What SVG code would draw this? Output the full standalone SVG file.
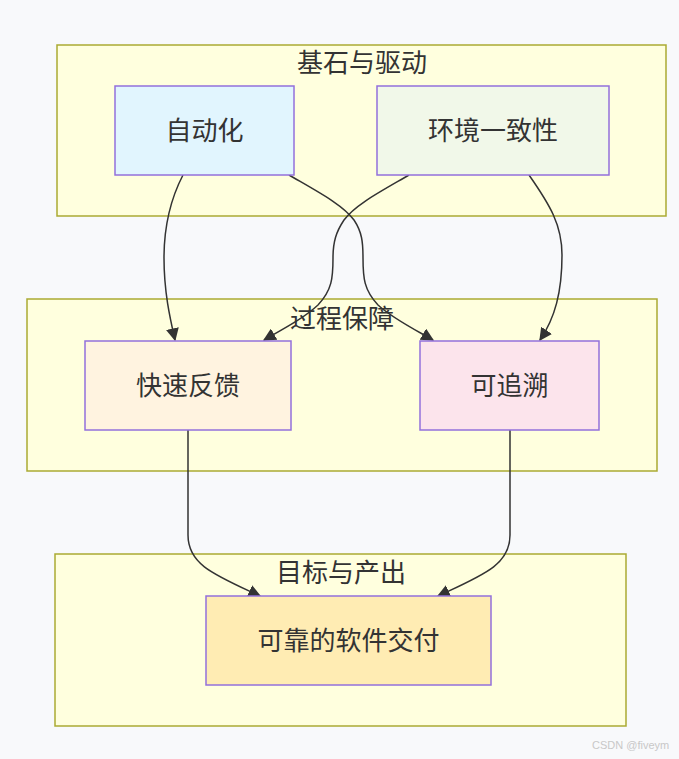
<svg xmlns="http://www.w3.org/2000/svg" width="679" height="759" viewBox="0 0 679 759">
<defs>
<style>
.bg{fill:#f8f9fb}
.cluster rect{fill:#ffffde;stroke:#aaaa33;stroke-width:1.5}
.node rect{stroke:#9370db;stroke-width:1.5}
text{font-family:"Noto Sans CJK SC","Noto Sans",sans-serif;fill:#333;font-size:26px;text-anchor:middle}
.edge{fill:none;stroke:#333;stroke-width:1.5}
.wm{font-family:"Liberation Sans",sans-serif;font-size:11px;fill:#c8c8c8;text-anchor:start}
</style>
<marker id="arr" viewBox="0 0 10 10" refX="9" refY="5" markerWidth="13" markerHeight="13" markerUnits="userSpaceOnUse" orient="auto">
<path d="M0,0 L10,5 L0,10 z" fill="#333"/>
</marker>
</defs>
<rect class="bg" x="0" y="0" width="679" height="759"/>
<g id="cluster-foundation" class="cluster">
<rect x="57" y="45" width="609" height="171"/>
<text x="362" y="72">基石与驱动</text>
</g>
<g id="cluster-process" class="cluster">
<rect x="27" y="299" width="630" height="172"/>
<text x="342" y="328">过程保障</text>
</g>
<g id="cluster-goal" class="cluster">
<rect x="55" y="554" width="571" height="172"/>
<text x="341" y="582">目标与产出</text>
</g>
<g id="edges">
<path class="edge" marker-end="url(#arr)" d="M183,175 C170,200 164,225 164,258 C164,292 170,318 175,340"/>
<path class="edge" marker-end="url(#arr)" d="M289,175 C320,193 343,205 354,220 C362,232 363,242 363,258 C363,278 364,290 378,305 C392,318 412,328 433,340"/>
<path class="edge" marker-end="url(#arr)" d="M409,175 C378,193 355,205 344,220 C336,232 333,242 333,258 C333,278 332,290 318,305 C304,318 285,328 264,340"/>
<path class="edge" marker-end="url(#arr)" d="M529,175 C550,205 562,225 562,255 C562,292 555,318 540,340"/>
<path class="edge" marker-end="url(#arr)" d="M188,430 L188,535 C188,565 215,575 260,596"/>
<path class="edge" marker-end="url(#arr)" d="M510,430 L510,535 C510,565 483,575 438,596"/>
</g>
<g id="node-automation" class="node">
<rect x="115" y="86" width="179" height="89" fill="#e1f5fe"/>
<text x="204.5" y="140">自动化</text>
</g>
<g id="node-env" class="node">
<rect x="377" y="86" width="232" height="89" fill="#f1f8e9"/>
<text x="493" y="140">环境一致性</text>
</g>
<g id="node-feedback" class="node">
<rect x="85" y="341" width="206" height="89" fill="#fff3e0"/>
<text x="188" y="395">快速反馈</text>
</g>
<g id="node-trace" class="node">
<rect x="420" y="341" width="179" height="89" fill="#fce4ec"/>
<text x="509.5" y="395">可追溯</text>
</g>
<g id="node-delivery" class="node">
<rect x="206" y="596" width="285" height="89" fill="#ffecb3"/>
<text x="348.5" y="650">可靠的软件交付</text>
</g>
<text class="wm" x="592" y="749">CSDN @fiveym</text>
</svg>
